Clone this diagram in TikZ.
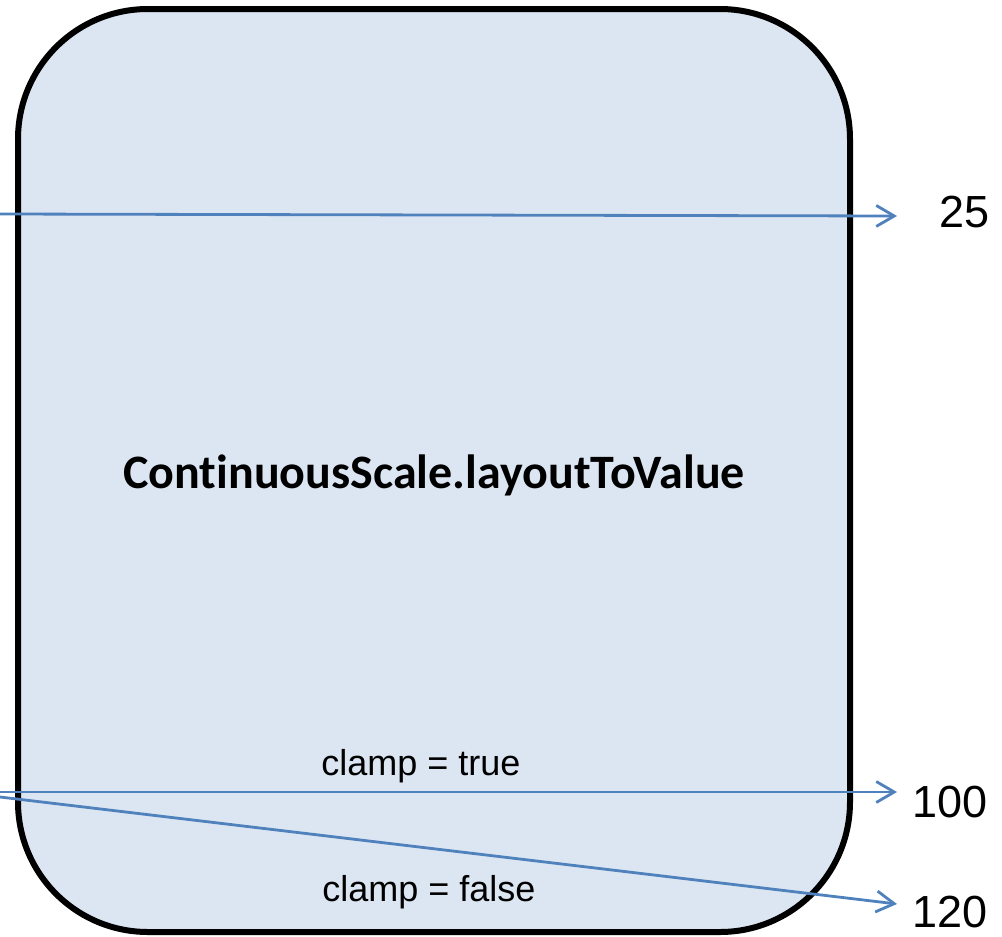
\documentclass[tikz,border=0pt]{standalone}
\usepackage{fontspec}
\setmainfont{Liberation Sans}
\newfontfamily\titlefont[Ligatures=NoCommon]{Carlito}
\usetikzlibrary{arrows.meta}
\definecolor{boxfill}{HTML}{DCE6F2}
\definecolor{flowblue}{HTML}{4F81BD}

\begin{document}
\begin{tikzpicture}[x=1pt,y=-1pt,
    flow/.style={draw=flowblue,line width=2.8pt,-{Straight Barb[length=18pt,width=21pt]}},
    val/.style={font=\fontsize{45}{50}\selectfont,anchor=base east,inner sep=0pt},
    note/.style={font=\fontsize{36}{40}\selectfont,anchor=base,inner sep=0pt}]
  \useasboundingbox (0,0) rectangle (1002,937);
  % Scale box
  \node[draw=black,line width=6pt,fill=boxfill,rounded corners=130pt,
        minimum width=832pt,minimum height=923pt] (scale) at (434,470.5) {};
  \node[font=\titlefont\bfseries\fontsize{48}{54}\selectfont,anchor=base,inner sep=0pt]
        (title) at (434,488) {ContinuousScale.layoutToValue};
  % Ends of the mappings
  \coordinate (in25) at (0,214);
  \coordinate (out25) at (897,216);
  \coordinate (intrue) at (0,792);
  \coordinate (outtrue) at (897,792);
  \coordinate (infalse) at (0,797);
  \coordinate (outfalse) at (897,904);
  % Mappings
  \draw[flow] (in25) -- (out25);
  \draw[flow] (intrue) -- (outtrue);
  \draw[flow] (infalse) -- (outfalse);
  % Values
  \node[val] (v25) at (990,227) {25};
  \node[val] (v100) at (988,817) {100};
  \node[val] (v120) at (988,927) {120};
  % Clamp labels
  \node[note] (ctrue) at (421,775) {clamp = true};
  \node[note] (cfalse) at (429,901) {clamp = false};
\end{tikzpicture}
\end{document}
